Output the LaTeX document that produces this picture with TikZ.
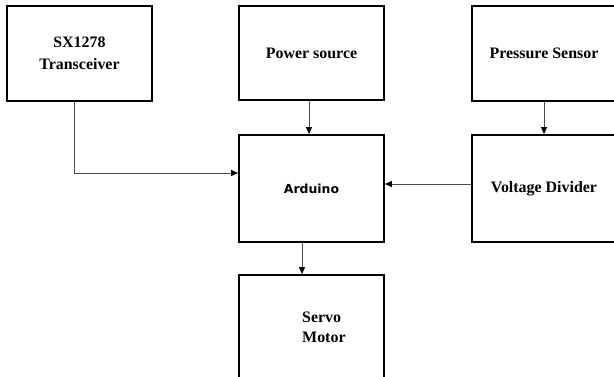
\documentclass[tikz,border=0pt]{standalone}
\usepackage{fontspec}
\setmainfont{Liberation Serif}
\newfontfamily\ardfont{DejaVu Sans}
\usetikzlibrary{arrows.meta}
\begin{document}
\begin{tikzpicture}[x=1bp,y=-1bp,
  blk/.style={draw=black,line width=1.8bp,fill=white,inner sep=0pt,
    font=\fontsize{16}{22}\selectfont\bfseries,align=center},
  conn/.style={draw=black!70,line width=1bp,-{Triangle[length=7bp,width=6bp,color=black]}},
  plainconn/.style={draw=black!70,line width=1bp}]
\useasboundingbox (0,0) rectangle (614,376);
\clip (0,0) rectangle (614,376);
% boxes
\node[blk,minimum width=145bp,minimum height=95bp] (sx) at (79.5,53.5) {SX1278\\Transceiver};
\node[blk,minimum width=145bp,minimum height=94bp] (pw) at (311.5,53) {Power source};
\node[blk,minimum width=144bp,minimum height=95bp] (ps) at (544,53.5) {Pressure Sensor};
\node[blk,minimum width=145bp,minimum height=107bp] (ard) at (311.5,188.5) {\ardfont\fontsize{12.5}{15}\selectfont\bfseries Arduino};
\node[blk,minimum width=144bp,minimum height=107bp] (vd) at (544,188.5) {Voltage Divider};
\node[blk,minimum width=145bp,minimum height=103bp] (sv) at (311.5,326.5) {};
\node[font=\fontsize{16}{20}\selectfont\bfseries,align=left,anchor=west,inner sep=0pt] (svt) at (302,327) {Servo\\Motor};
% connectors
\coordinate (sxo) at (74,101);
\draw[conn] (sxo) |- ([yshift=15.5bp]ard.west);
\draw[conn] ([xshift=-2.5bp]pw.south) -- ([xshift=-2.5bp]pw.south |- ard.north);
\draw[conn] (ps.south) -- (vd.north);
\draw[conn] ([yshift=4.5bp]vd.west) -- ([yshift=4.5bp]ard.east);
\draw[conn] ([xshift=-9.5bp]ard.south) -- ([xshift=-9.5bp]ard.south |- sv.north);
\end{tikzpicture}
\end{document}
